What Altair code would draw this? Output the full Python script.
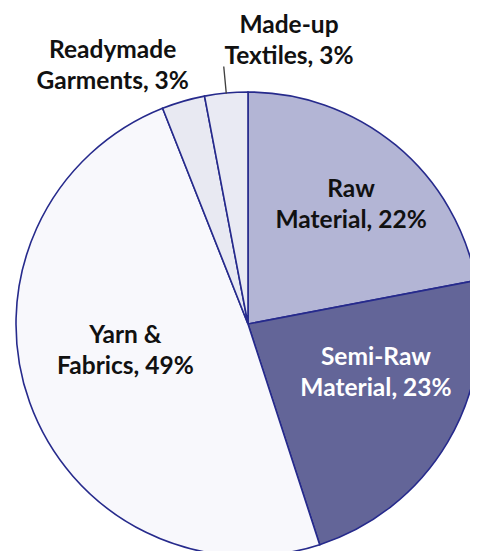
import altair as alt
import pandas as pd

categories = ["Raw Material", "Semi-Raw Material", "Yarn & Fabrics", "Readymade Garments", "Made-up Textiles"]
shares = [22, 23, 49, 3, 3]
label_lines = ["Raw\nMaterial, 22%", "Semi-Raw\nMaterial, 23%", "Yarn &\nFabrics, 49%",
               "Readymade\nGarments, 3%", "Made-up\nTextiles, 3%"]
fills = ["#b3b5d5", "#636598", "#f8f8fc", "#e8e9f2", "#e9eaf3"]

df = pd.DataFrame({"category": categories, "share": shares, "label": label_lines,
                   "idx": list(range(len(categories)))})

CX, CY, R = 240, 316, 232
theta_scale = alt.Scale(domain=[0, 100])

base = alt.Chart(df).transform_stack(
    stack="share", groupby=[], as_=["v0", "v1"], sort=[alt.SortField("idx", order="ascending")]
).transform_calculate(mid="(datum.v0 + datum.v1) / 2", mid2="(datum.v0 + datum.v1) / 2 + 0.01")

pie = base.mark_arc(outerRadius=R, x=CX, y=CY, stroke="#262a8c", strokeWidth=1.6).encode(
    theta=alt.Theta("v0:Q", scale=theta_scale, stack=None),
    theta2="v1:Q",
    color=alt.Color("category:N", scale=alt.Scale(domain=categories, range=fills), legend=None),
)

leader = base.transform_filter(alt.datum.category == "Made-up Textiles").mark_arc(
    innerRadius=R, outerRadius=258, x=CX, y=CY, stroke="#404040", strokeWidth=1.2, fillOpacity=0
).encode(
    theta=alt.Theta("mid:Q", scale=theta_scale, stack=None),
    theta2="mid2:Q",
)

label_cfg = {
    "Raw Material": (157, 3, -13, "#111111"),
    "Semi-Raw Material": (137, 10, -36, "#ffffff"),
    "Yarn & Fabrics": (126, -4, -31, "#111111"),
    "Readymade Garments": (270, -60, -14, "#111111"),
    "Made-up Textiles": (287, 68, -12, "#111111"),
}

layers = [pie, leader]
for cat, (rad, dx, dy, col) in label_cfg.items():
    layers.append(
        base.transform_filter(alt.datum.category == cat).mark_text(
            radius=rad, dx=dx, dy=dy, x=CX, y=CY, align="center", baseline="middle",
            lineBreak="\n", lineHeight=31, font="Lato", fontSize=24.5, fontWeight="bold", color=col
        ).encode(
            theta=alt.Theta("mid:Q", scale=theta_scale, stack=None),
            text="label:N",
        )
    )

chart = alt.layer(*layers).resolve_scale(theta="shared").properties(
    width=462, height=543, padding=0, autosize=alt.AutoSizeParams(type="none")
).configure_view(stroke=None)

chart.save("out.html", embed_options={"renderer": "svg", "actions": False})
